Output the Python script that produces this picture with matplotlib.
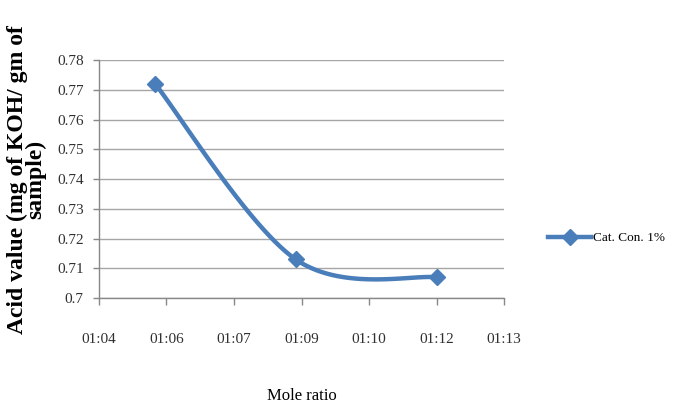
import numpy as np
import matplotlib
matplotlib.use("Agg")
import matplotlib.pyplot as plt
from matplotlib.lines import Line2D

plt.rcParams["font.family"] = ["Liberation Serif", "DejaVu Serif"]

# mole ratio stored as Excel-style time values (minutes past midnight)
mole_ratio_min = [66, 69, 72]
acid_value = [0.772, 0.713, 0.707]
series_name = "Cat. Con. 1%"

# Excel date axis: major unit 0.001 day starting at 0.045 day
tick_min = [64.8 + 1.44 * k for k in range(7)]
tick_labels = ["01:04", "01:06", "01:07", "01:09", "01:10", "01:12", "01:13"]
y_ticks = [0.70, 0.71, 0.72, 0.73, 0.74, 0.75, 0.76, 0.77, 0.78]
y_labels = ["0.7", "0.71", "0.72", "0.73", "0.74", "0.75", "0.76", "0.77", "0.78"]

blue = "#4a7ebb"


def smooth(xs, ys, n=60):
    # Bezier segments with Catmull-Rom style control points (Excel smoothed line)
    p = np.column_stack([xs, ys]).astype(float)
    out = []
    for i in range(len(p) - 1):
        p0 = p[i - 1] if i > 0 else p[i]
        p1, p2 = p[i], p[i + 1]
        p3 = p[i + 2] if i + 2 < len(p) else p[i + 1]
        c1 = p1 + (p2 - p0) / 6
        c2 = p2 - (p3 - p1) / 6
        t = np.linspace(0, 1, n)[:, None]
        seg = ((1 - t) ** 3 * p1 + 3 * (1 - t) ** 2 * t * c1
               + 3 * (1 - t) * t ** 2 * c2 + t ** 3 * p2)
        out.append(seg if i == 0 else seg[1:])
    seg = np.vstack(out)
    return seg[:, 0], seg[:, 1]


fig = plt.figure(figsize=(6.73, 4.04), dpi=100)
ax = fig.add_axes([0.147, 0.262, 0.602, 0.589])

sx, sy = smooth(mole_ratio_min, acid_value)
ax.plot(sx, sy, color=blue, linewidth=3.2, solid_capstyle="round", zorder=3)
ax.plot(mole_ratio_min, acid_value, linestyle="none", marker="D",
        markersize=8.5, color=blue, zorder=4)

ax.set_xlim(tick_min[0], tick_min[-1])
ax.set_ylim(0.70, 0.78)
ax.set_xticks(tick_min, tick_labels, fontsize=11, color="#303030")
ax.set_yticks(y_ticks, y_labels, fontsize=11, color="#303030")
ax.tick_params(axis="x", direction="out", length=5, width=1, color="#888888", pad=20)
ax.tick_params(axis="y", direction="out", length=4, width=1, color="#888888", pad=7)
ax.grid(axis="y", color="#a6a6a6", linewidth=1)
ax.set_axisbelow(True)
for name in ["top", "right"]:
    ax.spines[name].set_visible(False)
for name in ["left", "bottom"]:
    ax.spines[name].set(color="#888888", linewidth=1)

ax.set_xlabel("Mole ratio", fontsize=12, labelpad=30)
ax.set_ylabel("Acid value (mg of KOH/ gm of\nsample)", fontsize=17,
              fontweight="bold", labelpad=8, linespacing=0.78)

handle = Line2D([], [], color=blue, linewidth=3.2, marker="D", markersize=8.5)
fig.legend([handle], [series_name], loc="center left",
           bbox_to_anchor=(0.815, 0.41), frameon=False, fontsize=9.5,
           handlelength=3.2, handletextpad=0.2, borderpad=0, borderaxespad=0)

fig.savefig("out.png", dpi=100)
